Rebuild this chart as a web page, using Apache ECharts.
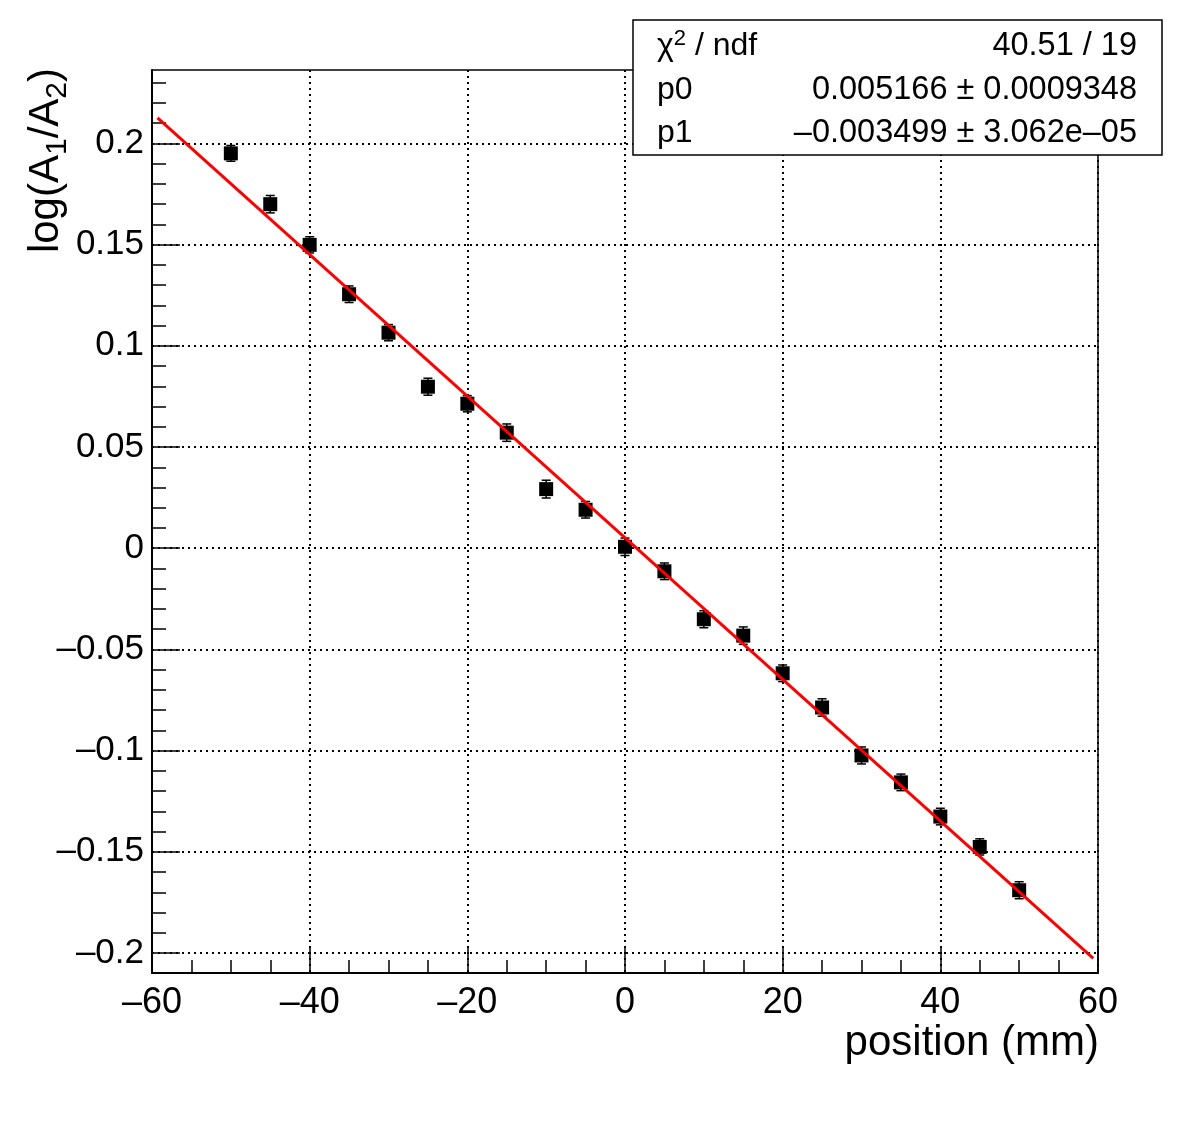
<!DOCTYPE html>
<html>
<head>
<meta charset="utf-8">
<script src="https://cdn.jsdelivr.net/npm/echarts@6/dist/echarts.min.js"></script>
<style>
html,body{margin:0;padding:0;background:#fff;}
#chart{width:1182px;height:1130px;}
</style>
</head>
<body>
<div id="chart"></div>
<script>
// ---- data ----
const positions = [-50,-45,-40,-35,-30,-25,-20,-15,-10,-5,0,5,10,15,20,25,30,35,40,45,50];
const logRatio  = [0.1951,0.1700,0.1499,0.1255,0.1065,0.0798,0.0714,0.0571,0.0292,0.0190,0.0007,
                   -0.0114,-0.0351,-0.0432,-0.0618,-0.0787,-0.1024,-0.1157,-0.1326,-0.1476,-0.1690];
const logRatioErr = [0.0039,0.0043,0.0040,0.0041,0.0040,0.0042,0.0040,0.0043,0.0044,0.0041,0.0043,
                     0.0041,0.0042,0.0043,0.0041,0.0043,0.0042,0.0041,0.0041,0.0040,0.0042];
// fit parameters (from the stats box): y = p0 + p1 * x
const p0 = 0.005166;
const p1 = -0.003499;
const fitRange = [-59.3, 59.4];
const statsLabels = ['χ2 / ndf', 'p0', 'p1'];
const statsValues = ['40.51 / 19', '0.005166 ± 0.0009348', '\u22120.003499 ± 3.062e\u221205'];
// axes
const xRange = [-60, 60];
const yRange = [-0.2099, 0.2363];
const xMajorTicks = [-60,-40,-20,0,20,40,60];
const yMajorTicks = [-0.2,-0.15,-0.1,-0.05,0,0.05,0.1,0.15,0.2];
const yMinorTicks = [-0.2,-0.19,-0.18,-0.17,-0.16,-0.15,-0.14,-0.13,-0.12,-0.11,-0.1,-0.09,-0.08,-0.07,-0.06,-0.05,
                     -0.04,-0.03,-0.02,-0.01,0,0.01,0.02,0.03,0.04,0.05,0.06,0.07,0.08,0.09,0.1,0.11,0.12,0.13,
                     0.14,0.15,0.16,0.17,0.18,0.19,0.2,0.21,0.22,0.23];

const FONT = '"Liberation Sans", Arial, Helvetica, sans-serif';
const fmtMinus = s => String(s).replace('-', '\u2013');

const chart = echarts.init(document.getElementById('chart'), null, {renderer: 'canvas'});

const pointData = positions.map((x, i) => [x, logRatio[i], logRatioErr[i]]);
const fitData = fitRange.map(x => [x, p0 + p1 * x]);

const option = {
  backgroundColor: '#fff',
  animation: false,
  grid: {left: 152, top: 70, right: 84, bottom: 157, show: true, borderColor: '#000', borderWidth: 1.5, containLabel: false},
  xAxis: {
    type: 'value', min: xRange[0], max: xRange[1], interval: 20,
    axisLine: {show: true, onZero: false, lineStyle: {color: '#000', width: 2}},
    axisTick: {show: true, inside: true, length: 27, lineStyle: {color: '#000', width: 1.5}},
    minorTick: {show: true, splitNumber: 4, length: 13, lineStyle: {color: '#000', width: 1.5}},
    splitLine: {show: true, lineStyle: {color: '#000', width: 2, type: [2, 4]}},
    axisLabel: {margin: 12, fontFamily: FONT, fontSize: 36, color: '#000', formatter: v => fmtMinus(v),
                showMinLabel: true, showMaxLabel: true}
  },
  yAxis: [{
    type: 'value', min: yRange[0], max: yRange[1], position: 'left',
    axisLine: {show: true, onZero: false, lineStyle: {color: '#000', width: 2}},
    axisTick: {show: true, inside: true, length: 28, customValues: yMajorTicks, lineStyle: {color: '#000', width: 1.5}},
    splitLine: {show: true, lineStyle: {color: '#000', width: 2, type: [2, 4]}},
    axisLabel: {margin: 8, fontFamily: FONT, fontSize: 35, color: '#000', customValues: yMajorTicks,
                formatter: v => fmtMinus(parseFloat(v.toFixed(2)))}
  }, {
    type: 'value', min: yRange[0], max: yRange[1], position: 'left', offset: 0,
    axisLine: {show: false, onZero: false},
    axisTick: {show: true, inside: true, length: 14, customValues: yMinorTicks, lineStyle: {color: '#000', width: 1.5}},
    splitLine: {show: false},
    axisLabel: {show: false}
  }],
  series: [
    {
      type: 'custom', name: 'errors', yAxisIndex: 0, z: 3,
      data: pointData,
      renderItem: function (params, api) {
        const x = api.value(0), y = api.value(1), e = api.value(2);
        const top = api.coord([x, y + e]);
        const bot = api.coord([x, y - e]);
        const hw = 4.5;
        const st = {stroke: '#000', lineWidth: 1.5};
        return {type: 'group', children: [
          {type: 'line', shape: {x1: top[0], y1: top[1], x2: bot[0], y2: bot[1]}, style: st},
          {type: 'line', shape: {x1: top[0] - hw, y1: top[1], x2: top[0] + hw, y2: top[1]}, style: st},
          {type: 'line', shape: {x1: bot[0] - hw, y1: bot[1], x2: bot[0] + hw, y2: bot[1]}, style: st}
        ]};
      }
    },
    {
      type: 'scatter', name: 'data', yAxisIndex: 0, z: 4,
      data: pointData.map(d => [d[0], d[1]]),
      symbol: 'rect', symbolSize: 14,
      itemStyle: {color: '#000', opacity: 1}
    },
    {
      type: 'line', name: 'fit', yAxisIndex: 0, z: 5,
      data: fitData, showSymbol: false, symbol: 'none',
      lineStyle: {color: '#ff0000', width: 3}
    }
  ],
  graphic: [
    // stats box
    {type: 'rect', shape: {x: 633, y: 20, width: 529, height: 135}, style: {fill: '#fff', stroke: '#000', lineWidth: 1.5}, z: 100},
    {type: 'text', x: 657, y: 46, z: 101, style: {
      text: '{n|χ}{sup|2}{n| / ndf}', verticalAlign: 'middle', align: 'left',
      rich: {n: {fontFamily: FONT, fontSize: 32, fill: '#000'},
             sup: {fontFamily: FONT, fontSize: 22, fill: '#000', padding: [0, 0, 14, 0]}}}},
    {type: 'text', x: 657, y: 90, z: 101, style: {text: statsLabels[1], fontFamily: FONT, fontSize: 32, fill: '#000', verticalAlign: 'middle', align: 'left'}},
    {type: 'text', x: 657, y: 133, z: 101, style: {text: statsLabels[2], fontFamily: FONT, fontSize: 32, fill: '#000', verticalAlign: 'middle', align: 'left'}},
    {type: 'text', x: 1137, y: 46, z: 101, style: {text: statsValues[0], fontFamily: FONT, fontSize: 32.5, fill: '#000', verticalAlign: 'middle', align: 'right'}},
    {type: 'text', x: 1137, y: 90, z: 101, style: {text: statsValues[1], fontFamily: FONT, fontSize: 32.5, fill: '#000', verticalAlign: 'middle', align: 'right'}},
    {type: 'text', x: 1137, y: 133, z: 101, style: {text: statsValues[2].replace(/\u2212/g, '\u2013'), fontFamily: FONT, fontSize: 32.5, fill: '#000', verticalAlign: 'middle', align: 'right'}},
    // x-axis title
    {type: 'text', x: 1099, y: 1043, z: 101, style: {text: 'position (mm)', fontFamily: FONT, fontSize: 42, fill: '#000', verticalAlign: 'middle', align: 'right'}},
    // y-axis title (rotated)
    {type: 'text', x: 46, y: 68, rotation: Math.PI / 2, z: 101, style: {
      text: '{n|log(A}{sub|1}{n|/A}{sub|2}{n|)}', verticalAlign: 'middle', align: 'right',
      rich: {n: {fontFamily: FONT, fontSize: 42, fill: '#000'},
             sub: {fontFamily: FONT, fontSize: 30, fill: '#000', padding: [24, 0, 0, 0]}}}}
  ]
};
chart.setOption(option);
</script>
</body>
</html>
